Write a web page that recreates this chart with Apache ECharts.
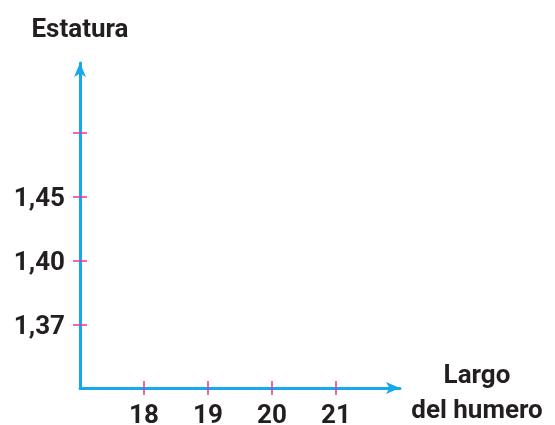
<!DOCTYPE html>
<html>
<head>
<meta charset="utf-8">
<script src="https://cdn.jsdelivr.net/npm/echarts@6/dist/echarts.min.js"></script>
<style>
  html, body { margin: 0; padding: 0; background: #fff; }
  #chart { width: 555px; height: 425px; }
</style>
</head>
<body>
<div id="chart"></div>
<script>
// x axis: largo del humero
const xTicks = [18, 19, 20, 21];
// y axis: estatura, ticks are evenly spaced, labels are not to scale
const yTicks = [1, 2, 3, 4];
const yLabels = ["1,37", "1,40", "1,45", ""];

const axisColor = "#16a9e9";
const tickColor = "#e6399b";
const textColor = "#231f20";
const font = "Roboto, sans-serif";

const chart = echarts.init(document.getElementById("chart"));

const baseX = {
  type: "value",
  min: 17,
  max: 22,
  splitLine: { show: false },
};
const baseY = {
  type: "value",
  min: 0,
  max: 5.1,
  splitLine: { show: false },
};

chart.setOption({
  animation: false,
  grid: {
    left: 80, top: 63, right: 155, bottom: 37,
    containLabel: false,
    outerBoundsMode: "none",
  },
  xAxis: [
    {
      ...baseX,
      name: "Largo\ndel humero",
      nameLocation: "end",
      nameGap: 77,
      nameTextStyle: {
        color: textColor,
        fontFamily: font,
        fontWeight: "bold",
        fontSize: 26,
        lineHeight: 35,
        align: "center",
        verticalAlign: "top",
        padding: [-29, 0, 0, 0],
      },
      axisLine: {
        show: true,
        lineStyle: { color: axisColor, width: 3 },
        symbol: ["none", "arrow"],
        symbolSize: [9, 14],
      },
      axisTick: {
        show: true,
        customValues: xTicks,
        length: 7,
        lineStyle: { color: tickColor, width: 1.5 },
      },
      axisLabel: {
        customValues: xTicks,
        color: textColor,
        fontFamily: font,
        fontWeight: "bold",
        fontSize: 26,
        margin: 15,
      },
    },
    {
      ...baseX,
      position: "bottom",
      axisLine: { show: false },
      axisTick: {
        show: true,
        inside: true,
        customValues: xTicks,
        length: 7,
        lineStyle: { color: tickColor, width: 1.5 },
      },
      axisLabel: { show: false },
    },
  ],
  yAxis: [
    {
      ...baseY,
      name: "Estatura",
      nameLocation: "end",
      nameGap: 20,
      nameTextStyle: {
        color: textColor,
        fontFamily: font,
        fontWeight: "bold",
        fontSize: 26,
        align: "center",
      },
      axisLine: {
        show: true,
        lineStyle: { color: axisColor, width: 3 },
        symbol: ["none", "arrow"],
        symbolSize: [9, 14],
      },
      axisTick: {
        show: true,
        customValues: yTicks,
        length: 7,
        lineStyle: { color: tickColor, width: 1.5 },
      },
      axisLabel: {
        customValues: yTicks,
        formatter: (v) => yLabels[yTicks.indexOf(v)] ?? "",
        color: textColor,
        fontFamily: font,
        fontWeight: "bold",
        fontSize: 26,
        margin: 15,
        verticalAlign: "top",
        padding: [-10, 0, 0, 0],
      },
    },
    {
      ...baseY,
      position: "left",
      axisLine: { show: false },
      axisTick: {
        show: true,
        inside: true,
        customValues: yTicks,
        length: 7,
        lineStyle: { color: tickColor, width: 1.5 },
      },
      axisLabel: { show: false },
    },
  ],
  series: [],
});
</script>
</body>
</html>
